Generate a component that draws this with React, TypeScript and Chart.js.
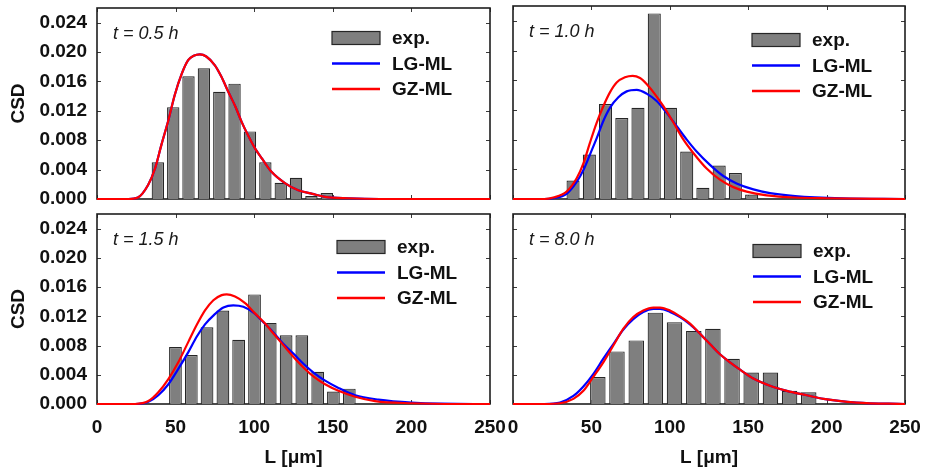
import React, { useEffect, useRef } from 'react';
import { Chart, registerables } from 'chart.js';

Chart.register(...registerables);

// ---------- tick labels ----------
const xTicks = [0, 50, 100, 150, 200, 250];
const yTicks = [0, 0.004, 0.008, 0.012, 0.016, 0.02, 0.024];
const seriesNames = ['exp.', 'LG-ML', 'GZ-ML'];

// ---------- t = 0.5 h ----------
const bin05 = [38.7, 48.5, 58.2, 68.0, 77.8, 87.5, 97.3, 107.1, 116.9, 126.6, 136.4, 146.2];
const exp05 = [0.005, 0.0125, 0.0167, 0.0178, 0.0146, 0.0157, 0.0092, 0.005, 0.0022, 0.0029, 0.0004, 0.0008];
const lgL05 = [0, 20, 26, 32.5, 37, 41, 45.5, 49.5, 54, 58, 61.5, 65.5, 69.5, 75, 79, 83.5, 88, 92, 96, 100.5, 105, 111, 120, 128, 137, 145, 160, 180, 250];
const lg05 = [0, 0, 0.0002, 0.0019, 0.0042, 0.0074, 0.0108, 0.0142, 0.0171, 0.0189, 0.0195, 0.0197, 0.0194, 0.0182, 0.0167, 0.0146, 0.0126, 0.0105, 0.0087, 0.0069, 0.0055, 0.0037, 0.0021, 0.0012, 0.0007, 0.0003, 0.0001, 0, 0];
const gzL05 = [0, 20, 26, 32.5, 37, 41, 45.5, 49.5, 54, 58, 61.5, 65.5, 69.5, 75, 79, 83.5, 88, 92, 96, 100.5, 105, 111, 120, 128, 137, 145, 160, 180, 250];
const gz05 = [0, 0, 0.0002, 0.0019, 0.0042, 0.0074, 0.0108, 0.0142, 0.0171, 0.0189, 0.0195, 0.0197, 0.0194, 0.0182, 0.0167, 0.0146, 0.0126, 0.0105, 0.0087, 0.0069, 0.0055, 0.0037, 0.0021, 0.0012, 0.0007, 0.0003, 0.0001, 0, 0];

// ---------- t = 1.0 h ----------
const bin10 = [38.3, 48.7, 59.0, 69.4, 79.7, 90.1, 100.4, 110.8, 121.1, 131.5, 141.8, 152.2];
const exp10 = [0.0025, 0.006, 0.0128, 0.0109, 0.0123, 0.025, 0.0123, 0.0064, 0.0015, 0.0045, 0.0035, 0.0006];
const lgL10 = [0, 20, 25.7, 34.2, 40.6, 44.9, 49.1, 53.4, 57.6, 61.9, 67.2, 72.5, 78.9, 85.2, 91.6, 98.0, 104.4, 110.8, 117.1, 125.6, 134.1, 142.6, 153.3, 163.9, 180, 210, 250];
const lg10 = [0, 0, 0.0001, 0.0007, 0.0023, 0.0039, 0.006, 0.0082, 0.0105, 0.0123, 0.0137, 0.0145, 0.0147, 0.0142, 0.0132, 0.0116, 0.0098, 0.008, 0.0064, 0.0046, 0.0031, 0.0021, 0.0013, 0.0008, 0.0004, 0.0001, 0];
const gzL10 = [0, 20, 25.7, 34.2, 40.6, 44.9, 49.1, 53.4, 57.6, 61.9, 66.1, 71.4, 76.3, 81.0, 85.2, 90.6, 95.9, 102.3, 108.7, 115.0, 123.5, 132.0, 140.5, 149.0, 161.8, 180, 200, 250];
const gz10 = [0, 0, 0.0002, 0.001, 0.0028, 0.0048, 0.0076, 0.0103, 0.0125, 0.0144, 0.0157, 0.0164, 0.0166, 0.0163, 0.0155, 0.0141, 0.0125, 0.0103, 0.008, 0.0062, 0.0041, 0.0026, 0.0016, 0.001, 0.0005, 0.0002, 0.0001, 0];

// ---------- t = 1.5 h ----------
const bin15 = [49.9, 60.0, 70.0, 80.1, 90.1, 100.2, 110.2, 120.3, 130.3, 140.4, 150.4, 160.5];
const exp15 = [0.0078, 0.0067, 0.0105, 0.0128, 0.0088, 0.015, 0.0111, 0.0094, 0.0094, 0.0044, 0.0017, 0.0021];
const lgL15 = [0, 24.2, 32.7, 39.0, 45.4, 51.7, 58.1, 63.4, 68.7, 74.0, 80.4, 86.7, 93.1, 99.5, 105.8, 112.2, 118.6, 124.9, 131.3, 137.7, 145.1, 153.6, 164.2, 179.0, 200, 240, 250];
const lg15 = [0, 0, 0.0003, 0.0012, 0.0027, 0.0048, 0.0071, 0.0092, 0.0109, 0.0121, 0.0132, 0.0135, 0.0133, 0.0125, 0.0112, 0.0098, 0.0082, 0.0069, 0.0055, 0.0043, 0.0032, 0.0022, 0.0012, 0.0006, 0.0002, 0, 0];
const gzL15 = [0, 24.2, 32.7, 39.0, 45.4, 51.7, 58.1, 63.4, 68.7, 74.0, 79.3, 82.5, 87.8, 94.2, 100.5, 106.9, 113.2, 119.6, 126.0, 132.3, 138.7, 145.1, 153.6, 164.2, 176.9, 200, 230, 250];
const gz15 = [0, 0, 0.0004, 0.0016, 0.0034, 0.0057, 0.0085, 0.0108, 0.0128, 0.0142, 0.0149, 0.015, 0.0147, 0.0138, 0.0124, 0.011, 0.0094, 0.0078, 0.0062, 0.0048, 0.0036, 0.0027, 0.0018, 0.001, 0.0004, 0.0001, 0, 0];

// ---------- t = 8.0 h ----------
const bin80 = [54.1, 66.3, 78.6, 90.8, 103.0, 115.3, 127.5, 139.7, 151.9, 164.2, 176.4, 188.6];
const exp80 = [0.0037, 0.0072, 0.0087, 0.0125, 0.0112, 0.01, 0.0103, 0.0062, 0.0043, 0.0043, 0.0018, 0.0016];
const lgL80 = [0, 20, 30, 38.5, 44.9, 51.2, 57.6, 64.0, 70.4, 76.7, 83.1, 89.5, 93.8, 100.1, 106.5, 112.9, 119.3, 125.6, 132.0, 138.4, 144.8, 153.3, 163.9, 174.6, 187.3, 198, 219, 250];
const lg80 = [0, 0, 0.0002, 0.0011, 0.0024, 0.0041, 0.0062, 0.0082, 0.0102, 0.0116, 0.0126, 0.013, 0.013, 0.0126, 0.0119, 0.0109, 0.0096, 0.0082, 0.0068, 0.0057, 0.0047, 0.0035, 0.0025, 0.0018, 0.0012, 0.0007, 0.0002, 0];
const gzL80 = [0, 20, 30, 38.5, 44.9, 51.2, 57.6, 64.0, 70.4, 76.7, 83.1, 89.5, 93.8, 100.1, 106.5, 112.9, 119.3, 125.6, 132.0, 138.4, 144.8, 153.3, 163.9, 174.6, 187.3, 198, 219, 250];
const gz80 = [0, 0, 0.0001, 0.0007, 0.0018, 0.0037, 0.0057, 0.008, 0.0103, 0.0119, 0.0128, 0.0132, 0.0132, 0.0128, 0.012, 0.011, 0.0096, 0.0082, 0.0068, 0.0057, 0.0047, 0.0035, 0.0025, 0.0018, 0.0012, 0.0007, 0.0002, 0];

// ---------- styles / layout ----------
const FONT = '"Liberation Sans", Arial, Helvetica, sans-serif';
const BAR_FILL = '#7f7f7f';
const BAR_EDGE = '#262626';
const BLUE = '#0000ff';
const RED = '#ff0000';
const INK = '#111111';

const panels = [
  { key: 'p05', label: 't = 0.5 h', bins: bin05, exp: exp05, lgL: lgL05, lg: lg05, gzL: gzL05, gz: gz05,
    left: 0, top: 0, w: 505, h: 210, padTop: 8, padRight: 15, yW: 97, xH: 11, showX: false, showY: true, legDx: -158, legDy: 30 },
  { key: 'p10', label: 't = 1.0 h', bins: bin10, exp: exp10, lgL: lgL10, lg: lg10, gzL: gzL10, gz: gz10,
    left: 495, top: 0, w: 430, h: 210, padTop: 6, padRight: 20, yW: 18, xH: 11, showX: false, showY: false, legDx: -153, legDy: 34 },
  { key: 'p15', label: 't = 1.5 h', bins: bin15, exp: exp15, lgL: lgL15, lg: lg15, gzL: gzL15, gz: gz15,
    left: 0, top: 205, w: 520, h: 266, padTop: 9, padRight: 30, yW: 97, xH: 67, showX: true, showY: true, legDx: -153, legDy: 33 },
  { key: 'p80', label: 't = 8.0 h', bins: bin80, exp: exp80, lgL: lgL80, lg: lg80, gzL: gzL80, gz: gz80,
    left: 495, top: 205, w: 430, h: 266, padTop: 9, padRight: 20, yW: 18, xH: 67, showX: true, showY: false, legDx: -152, legDy: 37 },
];

const decoPlugin = {
  id: 'deco',
  beforeDatasetsDraw(chart: any) {
    const { ctx, chartArea: a, scales } = chart;
    const xs = scales.x;
    const ys = scales.y;
    ctx.save();
    ctx.strokeStyle = '#3a3a3a';
    ctx.lineWidth = 1;
    ctx.beginPath();
    xs.ticks.forEach((t: any) => {
      const p = Math.round(xs.getPixelForValue(t.value)) + 0.5;
      ctx.moveTo(p, a.bottom);
      ctx.lineTo(p, a.bottom - 4);
      ctx.moveTo(p, a.top);
      ctx.lineTo(p, a.top + 4);
    });
    ys.ticks.forEach((t: any) => {
      const p = Math.round(ys.getPixelForValue(t.value)) + 0.5;
      ctx.moveTo(a.left, p);
      ctx.lineTo(a.left + 4, p);
      ctx.moveTo(a.right, p);
      ctx.lineTo(a.right - 4, p);
    });
    ctx.stroke();
    ctx.strokeStyle = '#1e1e1e';
    ctx.lineWidth = 1.6;
    ctx.strokeRect(a.left, a.top, a.right - a.left, a.bottom - a.top);
    ctx.restore();
  },
  afterDraw(chart: any, _args: any, opts: any) {
    const { ctx, chartArea: a } = chart;
    const ds = chart.data.datasets;
    ctx.save();
    ctx.fillStyle = '#1a1a1a';
    ctx.font = `italic 18px ${FONT}`;
    ctx.textBaseline = 'middle';
    ctx.textAlign = 'left';
    ctx.fillText(opts.label, a.left + 16, a.top + 26);
    const lx = a.right + opts.legDx;
    const ly = a.top + opts.legDy;
    const rowH = 25.5;
    ctx.font = `bold 19px ${FONT}`;
    ds.forEach((d: any, i: number) => {
      const cy = ly + i * rowH;
      if (d.type === 'bar') {
        ctx.fillStyle = d.backgroundColor;
        ctx.fillRect(lx, cy - 6.5, 48, 13);
        ctx.strokeStyle = d.borderColor;
        ctx.lineWidth = 1.2;
        ctx.strokeRect(lx, cy - 6.5, 48, 13);
      } else {
        ctx.strokeStyle = d.borderColor;
        ctx.lineWidth = 2.4;
        ctx.beginPath();
        ctx.moveTo(lx, cy);
        ctx.lineTo(lx + 48, cy);
        ctx.stroke();
      }
      ctx.fillStyle = INK;
      ctx.fillText(d.label, lx + 60, cy + 1);
    });
    ctx.restore();
  },
};

function Panel({ p }: { p: any }) {
  const ref = useRef<HTMLCanvasElement | null>(null);
  useEffect(() => {
    if (!ref.current) return;
    const chart = new Chart(ref.current, {
      type: 'bar',
      data: {
        datasets: [
          {
            type: 'bar',
            label: seriesNames[0],
            data: p.bins.map((x: number, i: number) => ({ x, y: p.exp[i] })),
            backgroundColor: BAR_FILL,
            borderColor: BAR_EDGE,
            borderWidth: 1.2,
            barPercentage: 0.81,
            categoryPercentage: 1,
            order: 3,
          } as any,
          {
            type: 'line',
            label: seriesNames[1],
            data: p.lgL.map((x: number, i: number) => ({ x, y: p.lg[i] })),
            borderColor: BLUE,
            borderWidth: 2.2,
            pointRadius: 0,
            fill: false,
            cubicInterpolationMode: 'monotone',
            clip: 3,
            order: 2,
          } as any,
          {
            type: 'line',
            label: seriesNames[2],
            data: p.gzL.map((x: number, i: number) => ({ x, y: p.gz[i] })),
            borderColor: RED,
            borderWidth: 2.2,
            pointRadius: 0,
            fill: false,
            cubicInterpolationMode: 'monotone',
            clip: 3,
            order: 1,
          } as any,
        ],
      },
      options: {
        responsive: false,
        animation: false,
        events: [],
        layout: { padding: { left: 0, top: p.padTop, right: p.padRight, bottom: 0 } },
        plugins: {
          legend: { display: false },
          tooltip: { enabled: false },
          deco: { label: p.label, legDx: p.legDx, legDy: p.legDy },
        } as any,
        scales: {
          x: {
            type: 'linear',
            min: 0,
            max: 250,
            offset: false,
            grid: { display: false, drawTicks: false, offset: false },
            border: { display: false },
            afterBuildTicks: (s: any) => { s.ticks = xTicks.map((value) => ({ value })); },
            afterFit: (s: any) => { s.height = p.xH; s.paddingLeft = 0; s.paddingRight = 0; s.paddingTop = 0; s.paddingBottom = 0; },
            ticks: {
              display: p.showX,
              padding: 12,
              maxRotation: 0,
              autoSkip: false,
              color: INK,
              font: { family: FONT, size: 19, weight: 'bold' },
              callback: (v: any) => String(v),
            },
            title: {
              display: p.showX,
              text: 'L [μm]',
              color: INK,
              font: { family: FONT, size: 19, weight: 'bold' },
              padding: { top: 0, bottom: 2 },
            },
          },
          y: {
            type: 'linear',
            min: 0,
            max: 0.026,
            grid: { display: false, drawTicks: false },
            border: { display: false },
            afterBuildTicks: (s: any) => { s.ticks = yTicks.map((value) => ({ value })); },
            afterFit: (s: any) => { s.width = p.yW; s.paddingLeft = 0; s.paddingRight = 0; s.paddingTop = 0; s.paddingBottom = 0; },
            ticks: {
              display: p.showY,
              padding: 10,
              autoSkip: false,
              color: INK,
              font: { family: FONT, size: 19, weight: 'bold' },
              callback: (v: any) => Number(v).toFixed(3),
            },
            title: {
              display: p.showY,
              text: 'CSD',
              color: INK,
              font: { family: FONT, size: 19, weight: 'bold' },
              padding: { top: 7, bottom: 0 },
            },
          },
        },
      } as any,
      plugins: [decoPlugin as any],
    });
    return () => chart.destroy();
  }, [p]);
  return (
    <canvas
      ref={ref}
      width={p.w}
      height={p.h}
      style={{ position: 'absolute', left: p.left, top: p.top, width: p.w, height: p.h }}
    />
  );
}

export default function App() {
  return (
    <div style={{ position: 'fixed', left: 0, top: 0, width: 925, height: 471, background: '#ffffff', overflow: 'hidden' }}>
      {panels.map((p) => (
        <Panel key={p.key} p={p} />
      ))}
    </div>
  );
}
